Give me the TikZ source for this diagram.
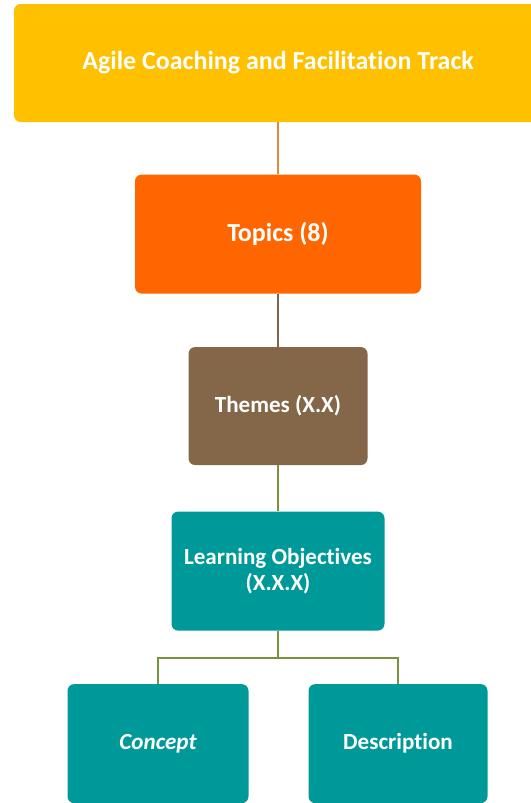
\documentclass[tikz,border=0pt]{standalone}
\usepackage{fontspec}
\setmainfont{Carlito}[Ligatures=NoCommon]
\usepackage{xcolor}
\usetikzlibrary{positioning,calc}
\definecolor{trackgold}{HTML}{FFC000}
\definecolor{topicorange}{HTML}{FF6600}
\definecolor{themebrown}{HTML}{846648}
\definecolor{objteal}{HTML}{009999}
\definecolor{linkorange}{HTML}{E0883A}
\definecolor{linkbrown}{HTML}{7F6450}
\definecolor{linkgreen}{HTML}{77933C}

\begin{document}
\begin{tikzpicture}[
  font=\fontsize{17.3}{19.5}\selectfont\bfseries,
  box/.style={rounded corners=5pt, align=center, fill=#1, text=white, inner sep=2pt},
  box/.default=objteal,
  big/.style={font=\fontsize{19.5}{19.5}\selectfont\bfseries},
  link/.style={draw=#1, line width=1.5pt}]
\useasboundingbox (0,0) rectangle (398.25pt,-602.25pt);
\node[box=trackgold, big, minimum width=396pt, minimum height=88.5pt] (track) at (208.5pt,-47.25pt) {Agile Coaching and Facilitation Track};
\node[box=topicorange, big, minimum width=214.5pt, minimum height=89.25pt, below=39pt of track] (topics) {Topics (8)};
\node[box=themebrown, minimum width=134.25pt, minimum height=88.5pt, below=39.75pt of topics] (themes) {Themes (X.X)};
\node[box, minimum width=159.75pt, minimum height=89.25pt, below=34.5pt of themes] (lo) {Learning Objectives\\(X.X.X)};
\node[box, minimum width=135.75pt, minimum height=89.25pt, below=39.75pt of lo, xshift=-90pt] (concept) {\itshape Concept};
\node[box, minimum width=134.25pt, minimum height=89.25pt, below=39.75pt of lo, xshift=90pt] (desc) {Description};
\draw[link=linkorange] (track) -- (topics);
\draw[link=linkbrown] (topics) -- (themes);
\draw[link=linkgreen] (themes) -- (lo);
\draw[link=linkgreen] (lo.south) -- ++(0,-20pt) -| (concept.north);
\draw[link=linkgreen] (lo.south) -- ++(0,-20pt) -| (desc.north);
\end{tikzpicture}
\end{document}
